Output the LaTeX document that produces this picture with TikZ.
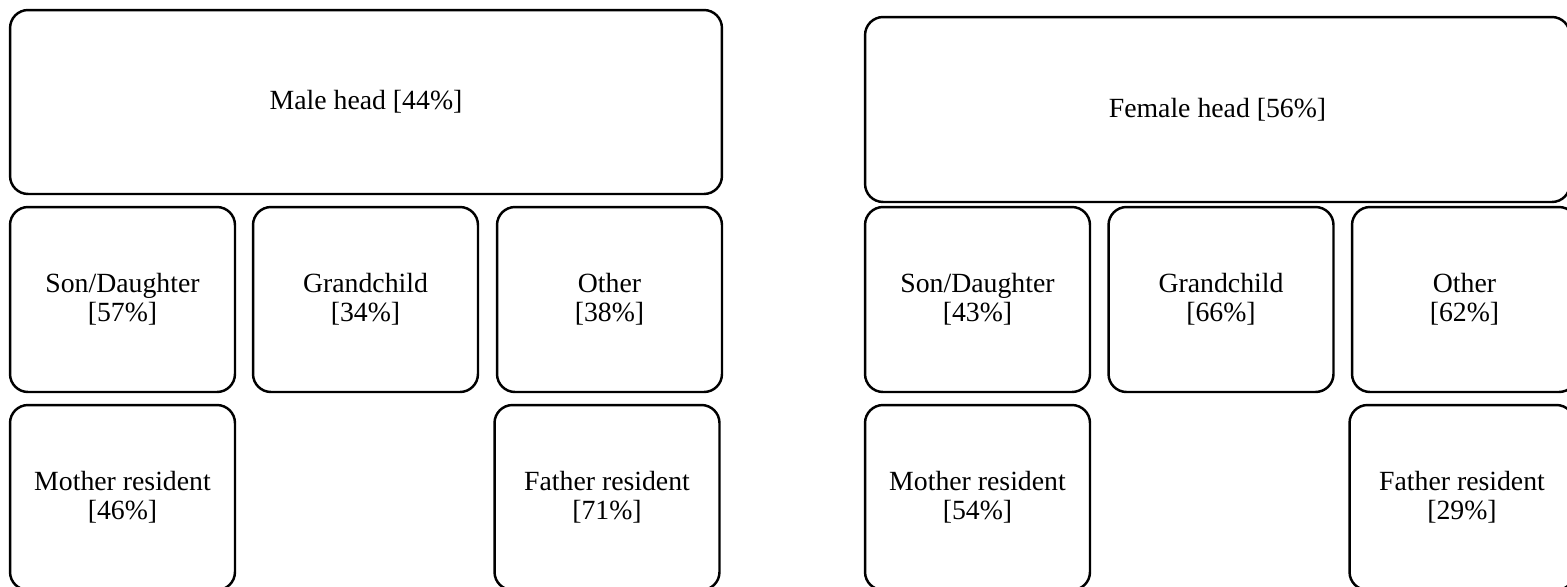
\documentclass[tikz,border=0pt]{standalone}
\usepackage{fontspec}
\setmainfont{Liberation Serif}
\usepackage{tikz}

\begin{document}
\begin{tikzpicture}[
    x=0.02cm, y=-0.02cm,
    every node/.style={draw, rectangle, rounded corners=0.36cm, line width=1.4pt, align=center, inner sep=0pt,
        font=\fontsize{15.8}{16.6}\selectfont},
    cell/.style={minimum width=4.5cm, minimum height=3.7cm}
]
\useasboundingbox (0,0) rectangle (1567,586);

% male household
\node[minimum width=14.24cm, minimum height=3.68cm] (malehead) at (366,102) {Male head [44\%]};
\node[cell] (mson) at (122.5,299.5) {Son/Daughter\\{}[57\%]};
\node[cell] (mgrand) at (365.5,299.5) {Grandchild\\{}[34\%]};
\node[cell] (mother) at (609.5,299.5) {Other\\{}[38\%]};
\node[cell] (mmum) at (122.5,497.5) {Mother resident\\{}[46\%]};
\node[cell] (mdad) at (607,497.5) {Father resident\\{}[71\%]};

% female household
\node[minimum width=14.1cm, minimum height=3.7cm] (femalehead) at (1217.5,109.5) {Female head [56\%]};
\node[cell] (fson) at (977.5,299.5) {Son/Daughter\\{}[43\%]};
\node[cell] (fgrand) at (1221,299.5) {Grandchild\\{}[66\%]};
\node[cell] (fother) at (1464.5,299.5) {Other\\{}[62\%]};
\node[cell] (fmum) at (977.5,497.5) {Mother resident\\{}[54\%]};
\node[cell] (fdad) at (1462,497.5) {Father resident\\{}[29\%]};
\end{tikzpicture}
\end{document}
